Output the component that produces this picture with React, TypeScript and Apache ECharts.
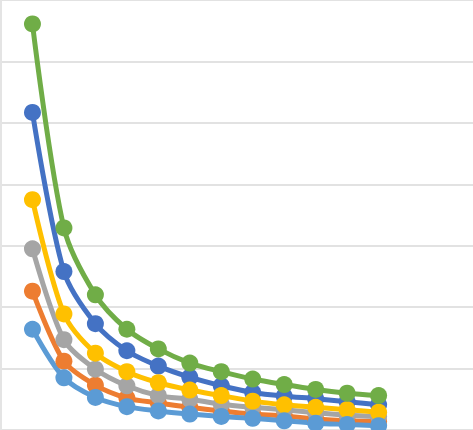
import { useEffect, useRef } from 'react'
import * as echarts from 'echarts'

// x positions (1..12)
const steps = [1, 2, 3, 4, 5, 6, 7, 8, 9, 10, 11, 12]

// values in gridline units, bottom gridline = 0
const seriesBlue = [5.17, 2.58, 1.73, 1.29, 1.04, 0.86, 0.72, 0.61, 0.55, 0.51, 0.46, 0.41]
const seriesOrange = [2.26, 1.12, 0.73, 0.52, 0.44, 0.37, 0.31, 0.26, 0.23, 0.18, 0.15, 0.14]
const seriesGray = [2.95, 1.47, 0.99, 0.72, 0.56, 0.5, 0.42, 0.37, 0.33, 0.28, 0.24, 0.22]
const seriesYellow = [3.75, 1.89, 1.25, 0.95, 0.77, 0.65, 0.56, 0.47, 0.41, 0.37, 0.33, 0.29]
const seriesLightBlue = [1.64, 0.85, 0.53, 0.38, 0.31, 0.26, 0.22, 0.19, 0.15, 0.11, 0.09, 0.07]
const seriesGreen = [6.61, 3.29, 2.2, 1.64, 1.32, 1.09, 0.95, 0.83, 0.74, 0.66, 0.6, 0.56]

const seriesList = [
  { name: 'Series 1', color: '#4472C4', values: seriesBlue },
  { name: 'Series 2', color: '#ED7D31', values: seriesOrange },
  { name: 'Series 3', color: '#A5A5A5', values: seriesGray },
  { name: 'Series 4', color: '#FFC000', values: seriesYellow },
  { name: 'Series 5', color: '#5B9BD5', values: seriesLightBlue },
  { name: 'Series 6', color: '#70AD47', values: seriesGreen },
]

export default function App() {
  const chartRef = useRef<HTMLDivElement | null>(null)

  useEffect(() => {
    if (!chartRef.current) {
      return undefined
    }

    const chart = echarts.init(chartRef.current, undefined, { renderer: 'svg' })

    chart.setOption({
      animation: false,
      backgroundColor: '#ffffff',
      grid: { left: 1, right: 0, top: 0, bottom: 0 },
      xAxis: {
        type: 'value',
        min: 0,
        max: 15,
        show: false,
      },
      yAxis: {
        type: 'value',
        min: 0,
        max: 7,
        interval: 1,
        axisLabel: { show: false },
        axisTick: { show: false },
        axisLine: { show: true, lineStyle: { color: '#E4E4E4', width: 2 } },
        splitLine: { lineStyle: { color: '#D9D9D9', width: 1.5 } },
      },
      series: seriesList.map((s) => ({
        name: s.name,
        type: 'line',
        smooth: 0.3,
        symbol: 'circle',
        symbolSize: 17,
        color: s.color,
        lineStyle: { width: 5, color: s.color },
        itemStyle: { color: s.color },
        data: steps.map((step, index) => [step, s.values[index]]),
      })),
    })

    return () => {
      chart.dispose()
    }
  }, [])

  return (
    <div
      ref={chartRef}
      style={{ position: 'fixed', left: 0, top: 0, width: 473, height: 430 }}
    />
  )
}
